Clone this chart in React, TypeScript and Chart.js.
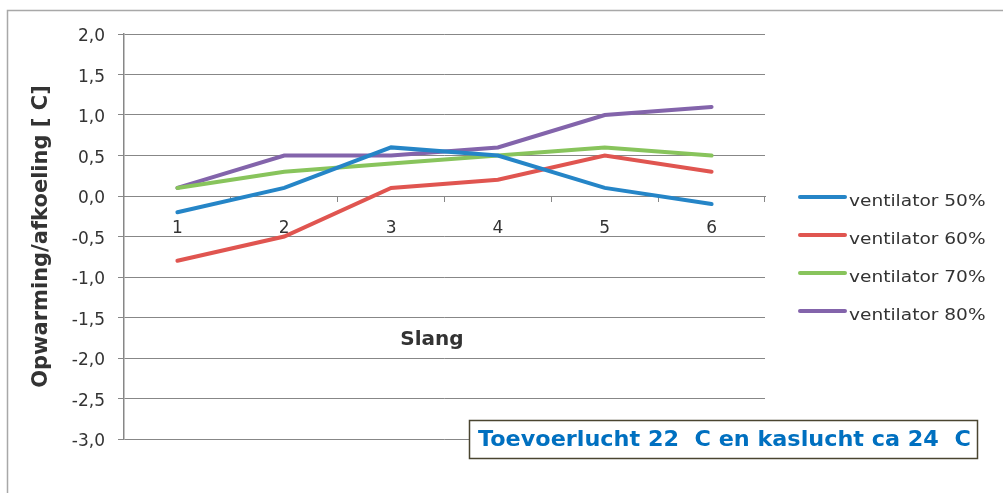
import React, { useEffect, useRef } from "react";
import { Chart, registerables } from "chart.js";

Chart.register(...registerables);

const categories = ["1", "2", "3", "4", "5", "6"];
const seriesLabels = ["ventilator 50%", "ventilator 60%", "ventilator 70%", "ventilator 80%"];
const vent50 = [-0.2, 0.1, 0.6, 0.5, 0.1, -0.1];
const vent60 = [-0.8, -0.5, 0.1, 0.2, 0.5, 0.3];
const vent70 = [0.1, 0.3, 0.4, 0.5, 0.6, 0.5];
const vent80 = [0.1, 0.5, 0.5, 0.6, 1.0, 1.1];
const seriesColors = ["#2585C7", "#E05550", "#88C45C", "#8364AB"];
const yMin = -3;
const yMax = 2;
const yStep = 0.5;
const xTitle = "Slang";
const yTitle = "Opwarming/afkoeling [ C]";
const noteText = "Toevoerlucht 22  C en kaslucht ca 24  C";

const GRID = "#878787";
const TEXT = "#333333";

const decorPlugin = {
  id: "decor",
  beforeDraw(chart: any) {
    const ctx = chart.ctx;
    ctx.save();
    ctx.fillStyle = "#ffffff";
    ctx.fillRect(0, 0, chart.width, chart.height);
    ctx.strokeStyle = "#a8a8a8";
    ctx.lineWidth = 1.5;
    ctx.strokeRect(7.5, 10.5, chart.width + 10, chart.height + 10);
    ctx.restore();
  },
  afterDraw(chart: any) {
    const ctx = chart.ctx;
    const area = chart.chartArea;
    ctx.save();
    // y title
    ctx.fillStyle = TEXT;
    ctx.font = "bold 21px 'DejaVu Sans'";
    ctx.textAlign = "center";
    ctx.textBaseline = "middle";
    ctx.translate(42, (area.top + area.bottom) / 2);
    ctx.rotate(-Math.PI / 2);
    ctx.fillText(yTitle, 0, 0);
    ctx.restore();

    ctx.save();
    // x title
    ctx.fillStyle = TEXT;
    ctx.font = "bold 20px 'DejaVu Sans'";
    ctx.textAlign = "center";
    ctx.textBaseline = "middle";
    ctx.fillText(xTitle, 432, 340);

    // note box
    const bx = 469.5, by = 420.5, bw = 508, bh = 38;
    ctx.fillStyle = "#ffffff";
    ctx.fillRect(bx, by, bw, bh);
    ctx.strokeStyle = "#4A4530";
    ctx.lineWidth = 1.5;
    ctx.strokeRect(bx, by, bw, bh);
    ctx.fillStyle = "#0070C0";
    ctx.font = "bold 21px 'DejaVu Sans'";
    ctx.textAlign = "left";
    ctx.textBaseline = "alphabetic";
    ctx.save();
    ctx.translate(478, 446);
    ctx.scale(1.063, 1);
    ctx.fillText(noteText, 0, 0);
    ctx.restore();

    // legend
    const ys = [197, 235, 273, 311];
    ctx.font = "16px 'DejaVu Sans'";
    chart.data.datasets.forEach((ds: any, i: number) => {
      const y = ys[i];
      ctx.strokeStyle = ds.borderColor;
      ctx.lineWidth = 4;
      ctx.lineCap = "round";
      ctx.beginPath();
      ctx.moveTo(800, y);
      ctx.lineTo(845, y);
      ctx.stroke();
      ctx.fillStyle = TEXT;
      ctx.save();
      ctx.translate(849, y + 9);
      ctx.scale(1.16, 1);
      ctx.fillText(ds.label, 0, 0);
      ctx.restore();
    });
    ctx.restore();
  },
};

export default function App() {
  const ref = useRef<HTMLCanvasElement | null>(null);
  useEffect(() => {
    if (!ref.current) return;
    const seriesData = [vent50, vent60, vent70, vent80];
    const chart = new Chart(ref.current, {
      type: "line",
      data: {
        labels: categories,
        datasets: seriesData.map((d, i) => ({
          label: seriesLabels[i],
          data: d,
          borderColor: seriesColors[i],
          backgroundColor: seriesColors[i],
          borderWidth: 4,
          pointRadius: 0,
          tension: 0,
          fill: false,
          borderCapStyle: "round" as const,
        })),
      },
      options: {
        animation: false,
        responsive: false,
        maintainAspectRatio: false,
        layout: { padding: { top: 34, right: 238, bottom: 54, left: 0 } },
        plugins: {
          legend: { display: false },
          tooltip: { enabled: false },
          title: { display: false },
        },
        scales: {
          x: {
            type: "category",
            offset: true,
            position: { y: 0 } as any,
            afterFit: (s: any) => {
              s.height = 0;
            },
            grid: {
              display: true,
              offset: true,
              drawOnChartArea: false,
              drawTicks: true,
              tickLength: 5,
              color: GRID,
            },
            border: { display: true, color: GRID, width: 1 },
            ticks: {
              color: TEXT,
              font: { family: "'DejaVu Sans'", size: 17 },
              padding: 17,
              maxRotation: 0,
              autoSkip: false,
            },
          },
          y: {
            type: "linear",
            min: yMin,
            max: yMax,
            afterFit: (s: any) => {
              s.width = 124;
            },
            grid: {
              color: GRID,
              lineWidth: 1,
              drawTicks: true,
              tickLength: 6,
            },
            border: { display: true, color: GRID, width: 1.5 },
            ticks: {
              stepSize: yStep,
              color: TEXT,
              font: { family: "'DejaVu Sans'", size: 17 },
              padding: 13,
              labelOffset: 3,
              callback: (v: any) => Number(v).toFixed(1).replace(".", ","),
            },
          },
        },
      },
      plugins: [decorPlugin],
    });
    return () => chart.destroy();
  }, []);
  return (
    <div style={{ position: "fixed", left: 0, top: 0, width: 1003, height: 493 }}>
      <canvas ref={ref} width={1003} height={493} style={{ width: 1003, height: 493, display: "block" }} />
    </div>
  );
}
